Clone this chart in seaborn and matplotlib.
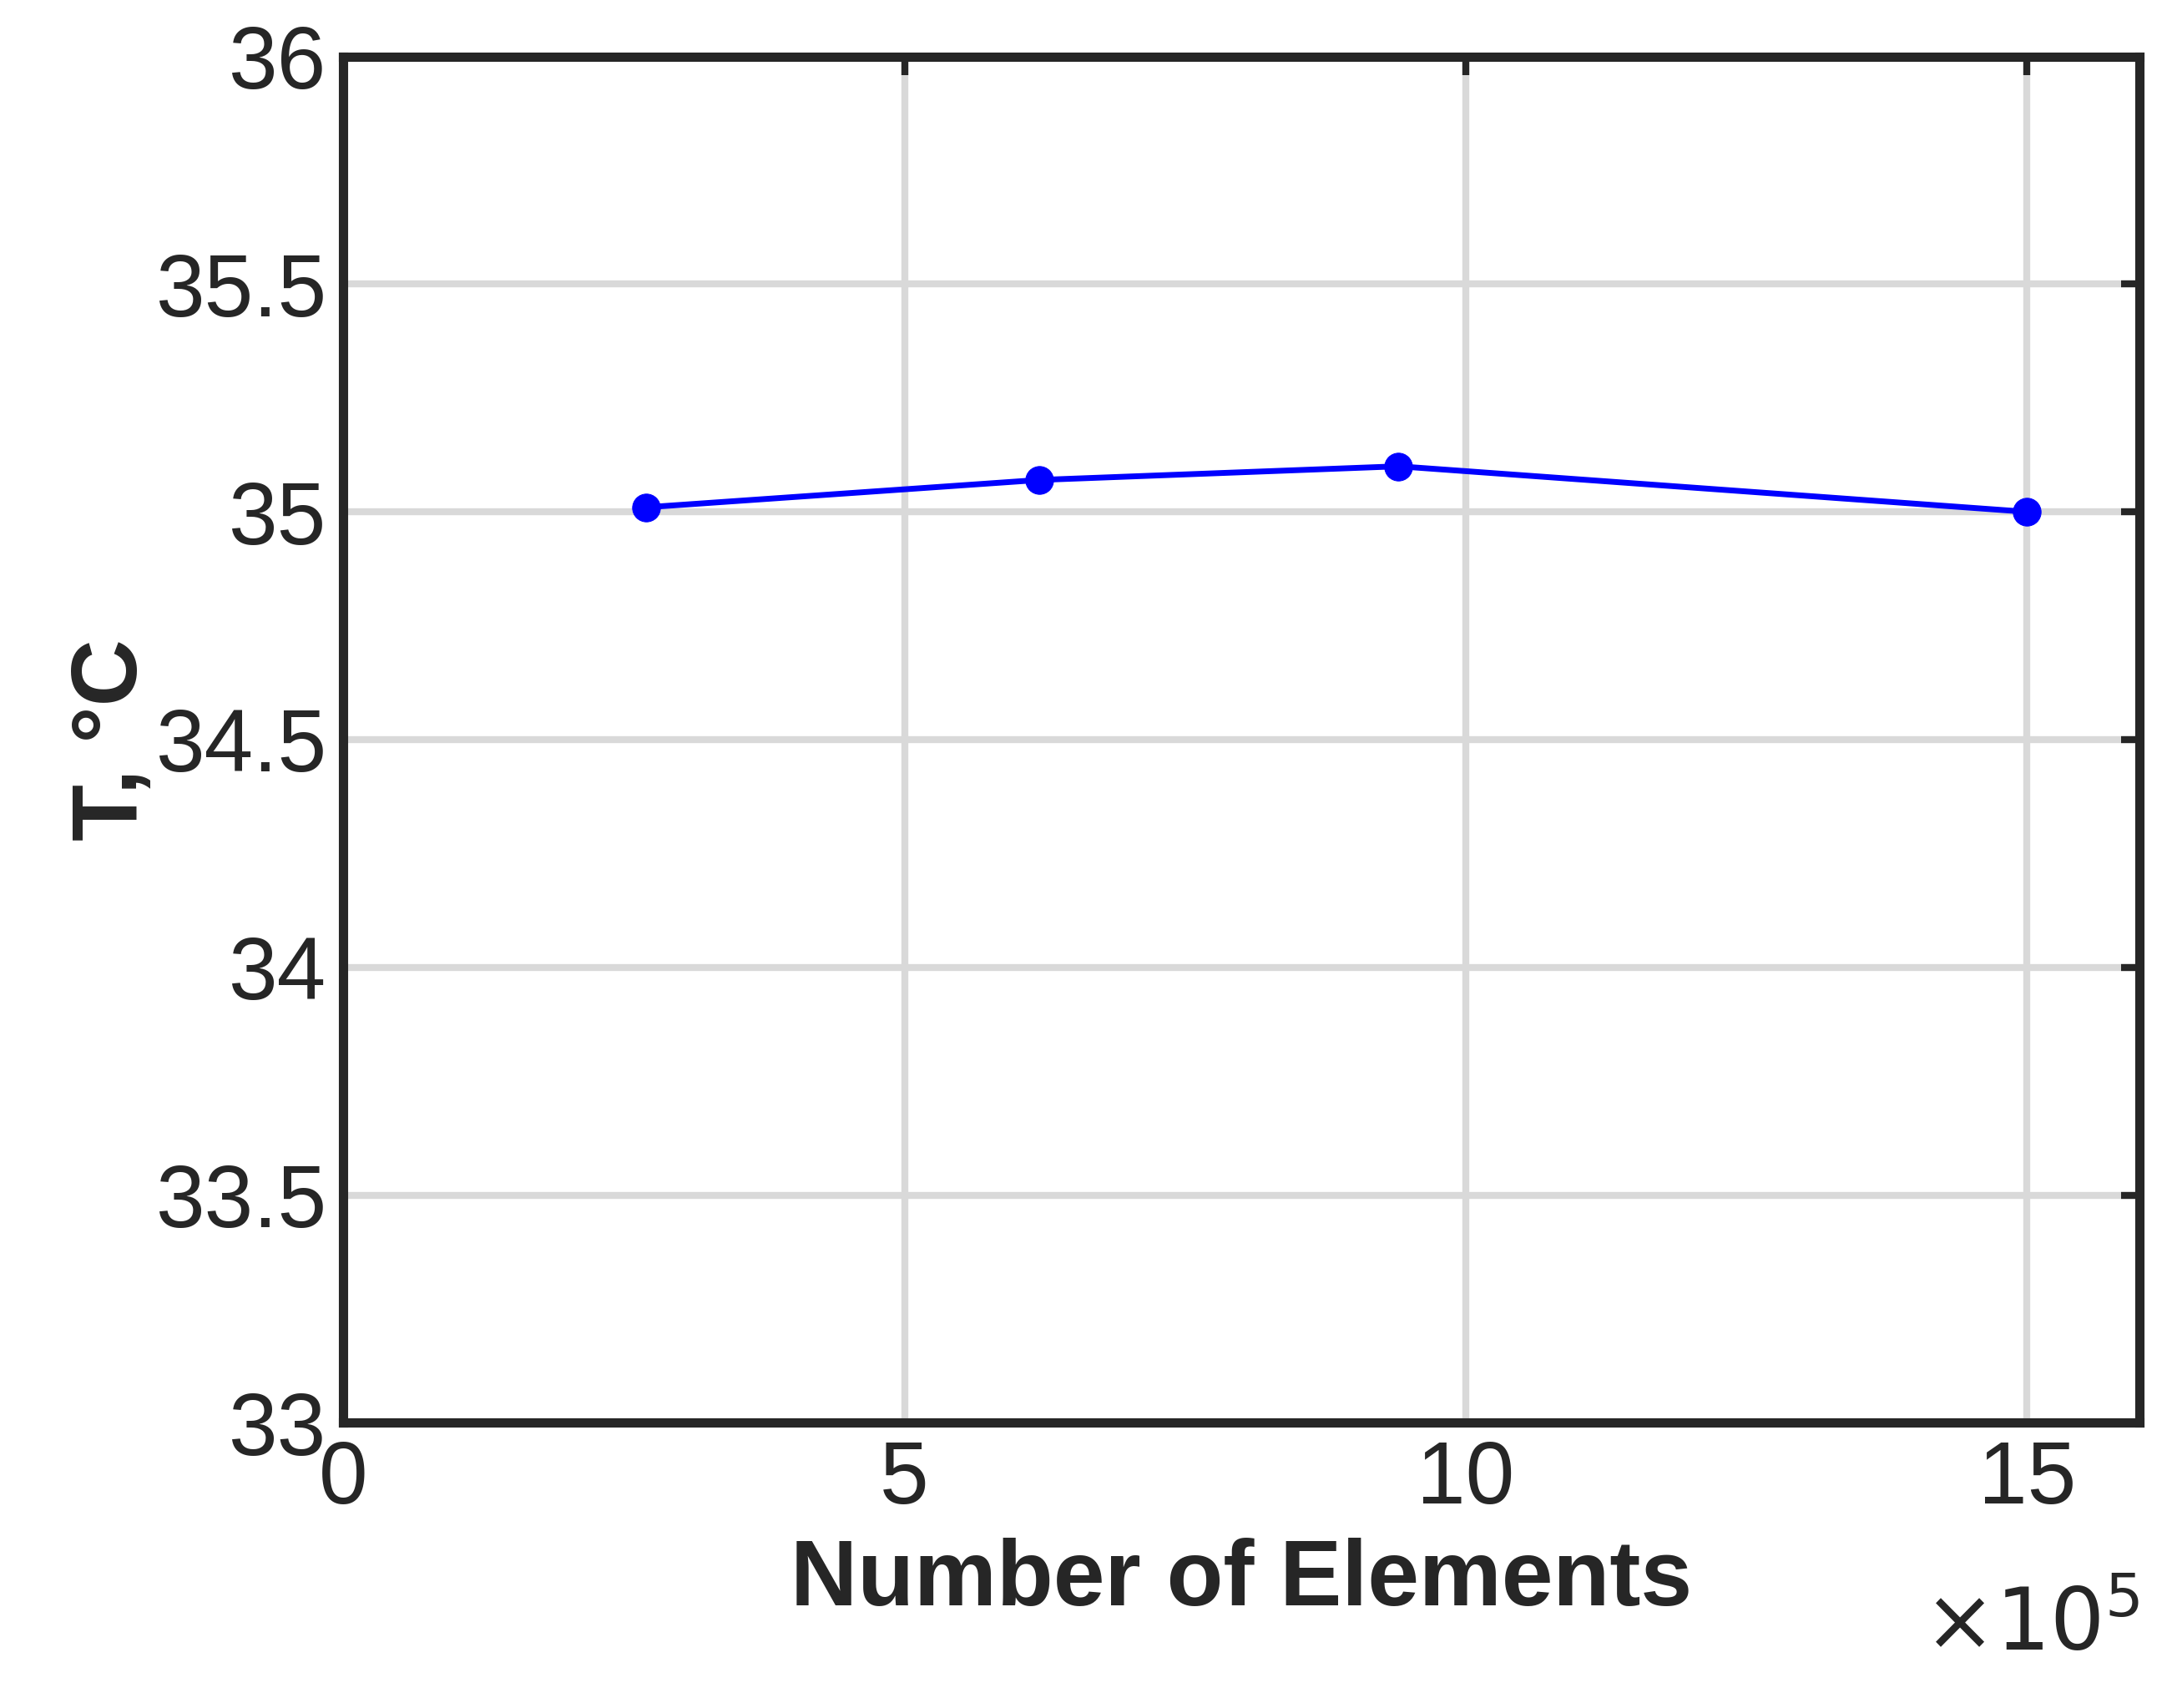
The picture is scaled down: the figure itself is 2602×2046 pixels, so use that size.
import numpy as np
import matplotlib
matplotlib.use('Agg')
import matplotlib.pyplot as plt
import seaborn as sns
import pandas as pd

# Mesh independence data (x in units of 1e5 elements)
elements = [2.7, 6.2, 9.4, 15.0]
temperature = [35.01, 35.07, 35.10, 35.00]

sns.set_style('white')
plt.rcParams['font.family'] = ['Liberation Sans', 'DejaVu Sans']

df = pd.DataFrame({'Elements': elements, 'T': temperature})

fig = plt.figure(figsize=(26.02, 20.46), dpi=100)
ax = fig.add_axes([0.158, 0.167, 0.827, 0.80])
sns.lineplot(data=df, x='Elements', y='T', ax=ax, color='#0000ff', linewidth=5,
             marker='o', markersize=24, markeredgecolor='#0000ff')

ax.set_xlim(0, 16)
ax.set_ylim(33, 36)
ax.set_xticks([0, 5, 10, 15])
ax.set_yticks(np.arange(33, 36.01, 0.5))
ax.set_yticklabels(['33', '33.5', '34', '34.5', '35', '35.5', '36'])
ax.grid(True, color='#d9d9d9', linewidth=6)
ax.tick_params(direction='in', length=16, width=6, labelsize=76, pad=14,
               top=True, right=True, colors='#262626')
for s in ax.spines.values():
    s.set_linewidth(8)
    s.set_color('#262626')
ax.set_xlabel('Number of Elements', fontsize=80, fontweight='bold', color='#262626', labelpad=14)
ax.set_ylabel('T, °C', fontsize=80, fontweight='bold', color='#262626', labelpad=0)
ax.text(1.0, -0.12, r'$\times10^5$', transform=ax.transAxes, ha='right', va='top',
        fontsize=74, color='#262626')

fig.savefig('out.png', dpi=100)
